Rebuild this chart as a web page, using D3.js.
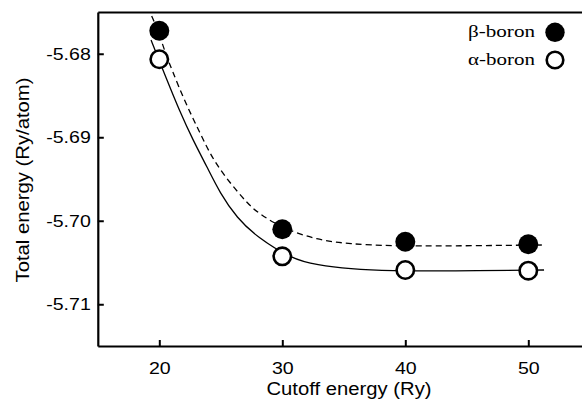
<!DOCTYPE html>
<html>
<head>
<meta charset="utf-8">
<script src="https://cdn.jsdelivr.net/npm/d3@7"></script>
<style>
  body { margin: 0; background: #fff; }
  svg { display: block; }
</style>
</head>
<body>
<script>
// measured points
var cutoff = [20, 30, 40, 50];
var betaEnergy = [-5.67724, -5.70102, -5.70251, -5.70282];
var alphaEnergy = [-5.68066, -5.70426, -5.70590, -5.70598];

// fitted curves
var betaFitX = [19.38, 19.92, 20.46, 21.03, 22.09, 23.31, 24.37, 25.75, 27.14, 28.02, 29.98, 32.82, 35.50, 38.76, 43.63, 51.36];
var betaFitY = [-5.67548, -5.67728, -5.67979, -5.68195, -5.68578, -5.68949, -5.69272, -5.69548, -5.69787, -5.69907, -5.70087, -5.70230, -5.70278, -5.70302, -5.70302, -5.70290];
var alphaFitX = [19.33, 19.94, 20.46, 21.68, 22.74, 23.88, 24.93, 26.31, 27.94, 30.78, 32.81, 35.50, 38.76, 43.63, 51.28];
var alphaFitY = [-5.67835, -5.68063, -5.68254, -5.68698, -5.69033, -5.69356, -5.69668, -5.69967, -5.70195, -5.70458, -5.70530, -5.70578, -5.70602, -5.70602, -5.70590];

var xTicks = [20, 30, 40, 50];
var yTicks = [-5.68, -5.69, -5.70, -5.71];
var legendLabels = ["\u03b2-boron", "\u03b1-boron"];

var svgWidth = 582;
var svgHeight = 401;

var xScale = d3.scaleLinear()
               .domain([15, 55])
               .range([97.8, 589.8]);

var yScale = d3.scaleLinear()
               .domain([-5.715, -5.675])
               .range([346, 12]);

var svg = d3.select("body")
            .append("svg")
            .attr("width", svgWidth)
            .attr("height", svgHeight);

// fit lines
var line = d3.line()
             .x((d) => xScale(d[0]))
             .y((d) => yScale(d[1]))
             .curve(d3.curveBasis);

svg.append("path")
   .datum(d3.zip(betaFitX, betaFitY))
   .attr("d", line)
   .attr("fill", "none")
   .attr("stroke", "#000")
   .attr("stroke-width", 1.3)
   .attr("stroke-dasharray", "6,4");

svg.append("path")
   .datum(d3.zip(alphaFitX, alphaFitY))
   .attr("d", line)
   .attr("fill", "none")
   .attr("stroke", "#000")
   .attr("stroke-width", 1.3);

// axes
var xAxis = d3.axisBottom(xScale)
              .tickValues(xTicks)
              .tickFormat(d3.format("d"))
              .tickSizeInner(-6)
              .tickSizeOuter(0)
              .tickPadding(16);

var yAxis = d3.axisLeft(yScale)
              .tickValues(yTicks)
              .tickFormat((d) => d.toFixed(2))
              .tickSizeInner(-6)
              .tickSizeOuter(0)
              .tickPadding(7);

var gx = svg.append("g")
   .attr("transform", "translate(0," + yScale.range()[0] + ")")
   .call(xAxis);

var gy = svg.append("g")
   .attr("transform", "translate(" + xScale.range()[0] + ",0)")
   .call(yAxis);

var gt = svg.append("g")
   .attr("transform", "translate(0," + yScale.range()[1] + ")")
   .call(d3.axisTop(xScale).tickValues([]).tickSizeOuter(0));

[gx, gy, gt].forEach(function(g){
  g.select(".domain").attr("stroke-width", 2.2);
  g.selectAll(".tick line").attr("stroke-width", 2);
  g.selectAll(".tick text")
   .attr("font-family", "Liberation Sans, Arial, sans-serif")
   .attr("font-size", 17)
   .attr("fill", "#000")
   .each(function(){
     // the original lettering is a little wider than Arial
     var w = this.getComputedTextLength();
     d3.select(this).attr("textLength", w * 1.15)
                    .attr("lengthAdjust", "spacingAndGlyphs");
   });
});

// axis titles
svg.append("text")
   .attr("x", 349)
   .attr("y", 395)
   .attr("text-anchor", "middle")
   .attr("font-family", "Liberation Sans, Arial, sans-serif")
   .attr("font-size", 18)
   .attr("textLength", 165)
   .attr("lengthAdjust", "spacingAndGlyphs")
   .text("Cutoff energy (Ry)");

svg.append("text")
   .attr("transform", "translate(29,180) rotate(-90)")
   .attr("text-anchor", "middle")
   .attr("font-family", "Liberation Sans, Arial, sans-serif")
   .attr("font-size", 18)
   .attr("textLength", 205)
   .attr("lengthAdjust", "spacingAndGlyphs")
   .text("Total energy (Ry/atom)");

// points
svg.selectAll("circle.beta")
   .data(d3.zip(cutoff, betaEnergy))
   .enter()
   .append("circle")
   .attr("class", "beta")
   .attr("cx", (d) => xScale(d[0]))
   .attr("cy", (d) => yScale(d[1]))
   .attr("r", 10)
   .attr("fill", "#000");

svg.selectAll("circle.alpha")
   .data(d3.zip(cutoff, alphaEnergy))
   .enter()
   .append("circle")
   .attr("class", "alpha")
   .attr("cx", (d) => xScale(d[0]))
   .attr("cy", (d) => yScale(d[1]))
   .attr("r", 8.7)
   .attr("fill", "#fff")
   .attr("stroke", "#000")
   .attr("stroke-width", 2.6);

// legend
var legend = svg.append("g");
legendLabels.forEach(function(label, i){
  var cy = 32.3 + i * 27.7;
  legend.append("text")
        .attr("x", 535)
        .attr("y", cy + 5)
        .attr("text-anchor", "end")
        .attr("font-family", "Liberation Serif, serif")
        .attr("font-size", 17)
        .attr("textLength", 67)
        .attr("lengthAdjust", "spacingAndGlyphs")
        .text(label);
  legend.append("circle")
        .attr("cx", 555)
        .attr("cy", cy)
        .attr("r", i === 0 ? 9.7 : 8.3)
        .attr("fill", i === 0 ? "#000" : "#fff")
        .attr("stroke", "#000")
        .attr("stroke-width", i === 0 ? 0 : 2.6);
});
</script>
</body>
</html>
